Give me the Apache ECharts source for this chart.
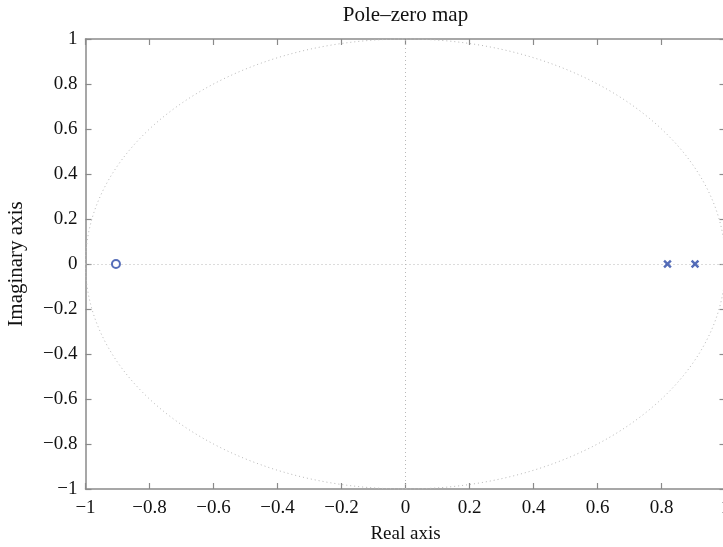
<!DOCTYPE html>
<html><head><meta charset="utf-8">
<script src="https://cdn.jsdelivr.net/npm/echarts@6/dist/echarts.min.js"></script>
<style>html,body{margin:0;padding:0;background:#fff}#c{width:723px;height:547px}</style>
</head><body><div id="c"></div>
<script>
const titleText = 'Pole\u2013zero map';
const xName = 'Real axis';
const yName = 'Imaginary axis';
const zeros = [[-0.9048, 0]];
const poles = [[0.8187, 0], [0.9048, 0]];
const unitCircle = [[0, 0, 1]];
const axisMin = -1, axisMax = 1, axisStep = 0.2;

const font = 'Liberation Serif';
const fmt = v => { const r = Math.round(v * 10) / 10; return r < 0 ? '\u2212' + String(-r) : String(r); };
const axColor = '#8a8a8a';
const blue = '#2a48a6';
const crossPath = 'path://M0,2 L2,0 L5,3 L8,0 L10,2 L7,5 L10,8 L8,10 L5,7 L2,10 L0,8 L3,5 Z';

function baseAxis(extra) {
  return Object.assign({
    type: 'value', min: axisMin, max: axisMax, interval: axisStep,
    axisLine: { show: true, onZero: false, lineStyle: { color: axColor, width: 1.5 } },
    axisTick: { show: true, inside: true, length: 6, lineStyle: { color: axColor, width: 1.2 } },
    splitLine: { show: false },
    axisLabel: { fontFamily: font, fontSize: 19, color: '#111', formatter: fmt },
    nameTextStyle: { fontFamily: font, fontSize: 19, color: '#111' }
  }, extra);
}

const chart = echarts.init(document.getElementById('c'), null, { renderer: 'canvas' });
chart.setOption({
  animation: false,
  backgroundColor: '#fff',
  graphic: [{ type: 'text', x: 405.5, y: 15, silent: true,
    style: { text: titleText, fontFamily: font, fontSize: 21, fill: '#111', align: 'center', verticalAlign: 'middle' } }],
  grid: { left: 85.5, top: 39, width: 640, height: 450, containLabel: false, outerBoundsMode: 'none' },
  xAxis: [
    baseAxis({ position: 'bottom', name: xName, nameLocation: 'middle', nameGap: 36,
      axisLabel: { fontFamily: font, fontSize: 19, color: '#111', formatter: fmt, margin: 10 } }),
    baseAxis({ position: 'top', axisLabel: { show: false } })
  ],
  yAxis: [
    baseAxis({ position: 'left', name: yName, nameLocation: 'middle', nameGap: 59,
      nameTextStyle: { fontFamily: font, fontSize: 21, color: '#111' },
      axisLabel: { fontFamily: font, fontSize: 19, color: '#111', formatter: fmt, margin: 8 } }),
    baseAxis({ position: 'right', axisLabel: { show: false } })
  ],
  series: [
    {
      type: 'custom', data: unitCircle, silent: true, z: 1,
      renderItem: function (params, api) {
        const c = api.coord([api.value(0), api.value(1)]);
        const s = api.size([api.value(2), api.value(2)]);
        return { type: 'ellipse', shape: { cx: c[0], cy: c[1], rx: s[0], ry: s[1] },
          style: { fill: 'none', stroke: '#b8b8b8', lineWidth: 1, lineDash: [1, 3] } };
      }
    },
    {
      type: 'line', data: [], silent: true,
      markLine: { silent: true, symbol: 'none', label: { show: false },
        lineStyle: { color: '#b8b8b8', type: [1, 3], width: 1 },
        data: [{ xAxis: 0 }, { yAxis: 0 }] }
    },
    {
      name: 'zeros', type: 'scatter', data: zeros, z: 5,
      symbol: 'emptyCircle', symbolSize: 8,
      itemStyle: { color: blue, borderColor: blue, borderWidth: 3 }
    },
    {
      name: 'poles', type: 'scatter', data: poles, z: 5,
      symbol: crossPath, symbolSize: 8.5,
      itemStyle: { color: blue }
    }
  ]
});
</script></body></html>
